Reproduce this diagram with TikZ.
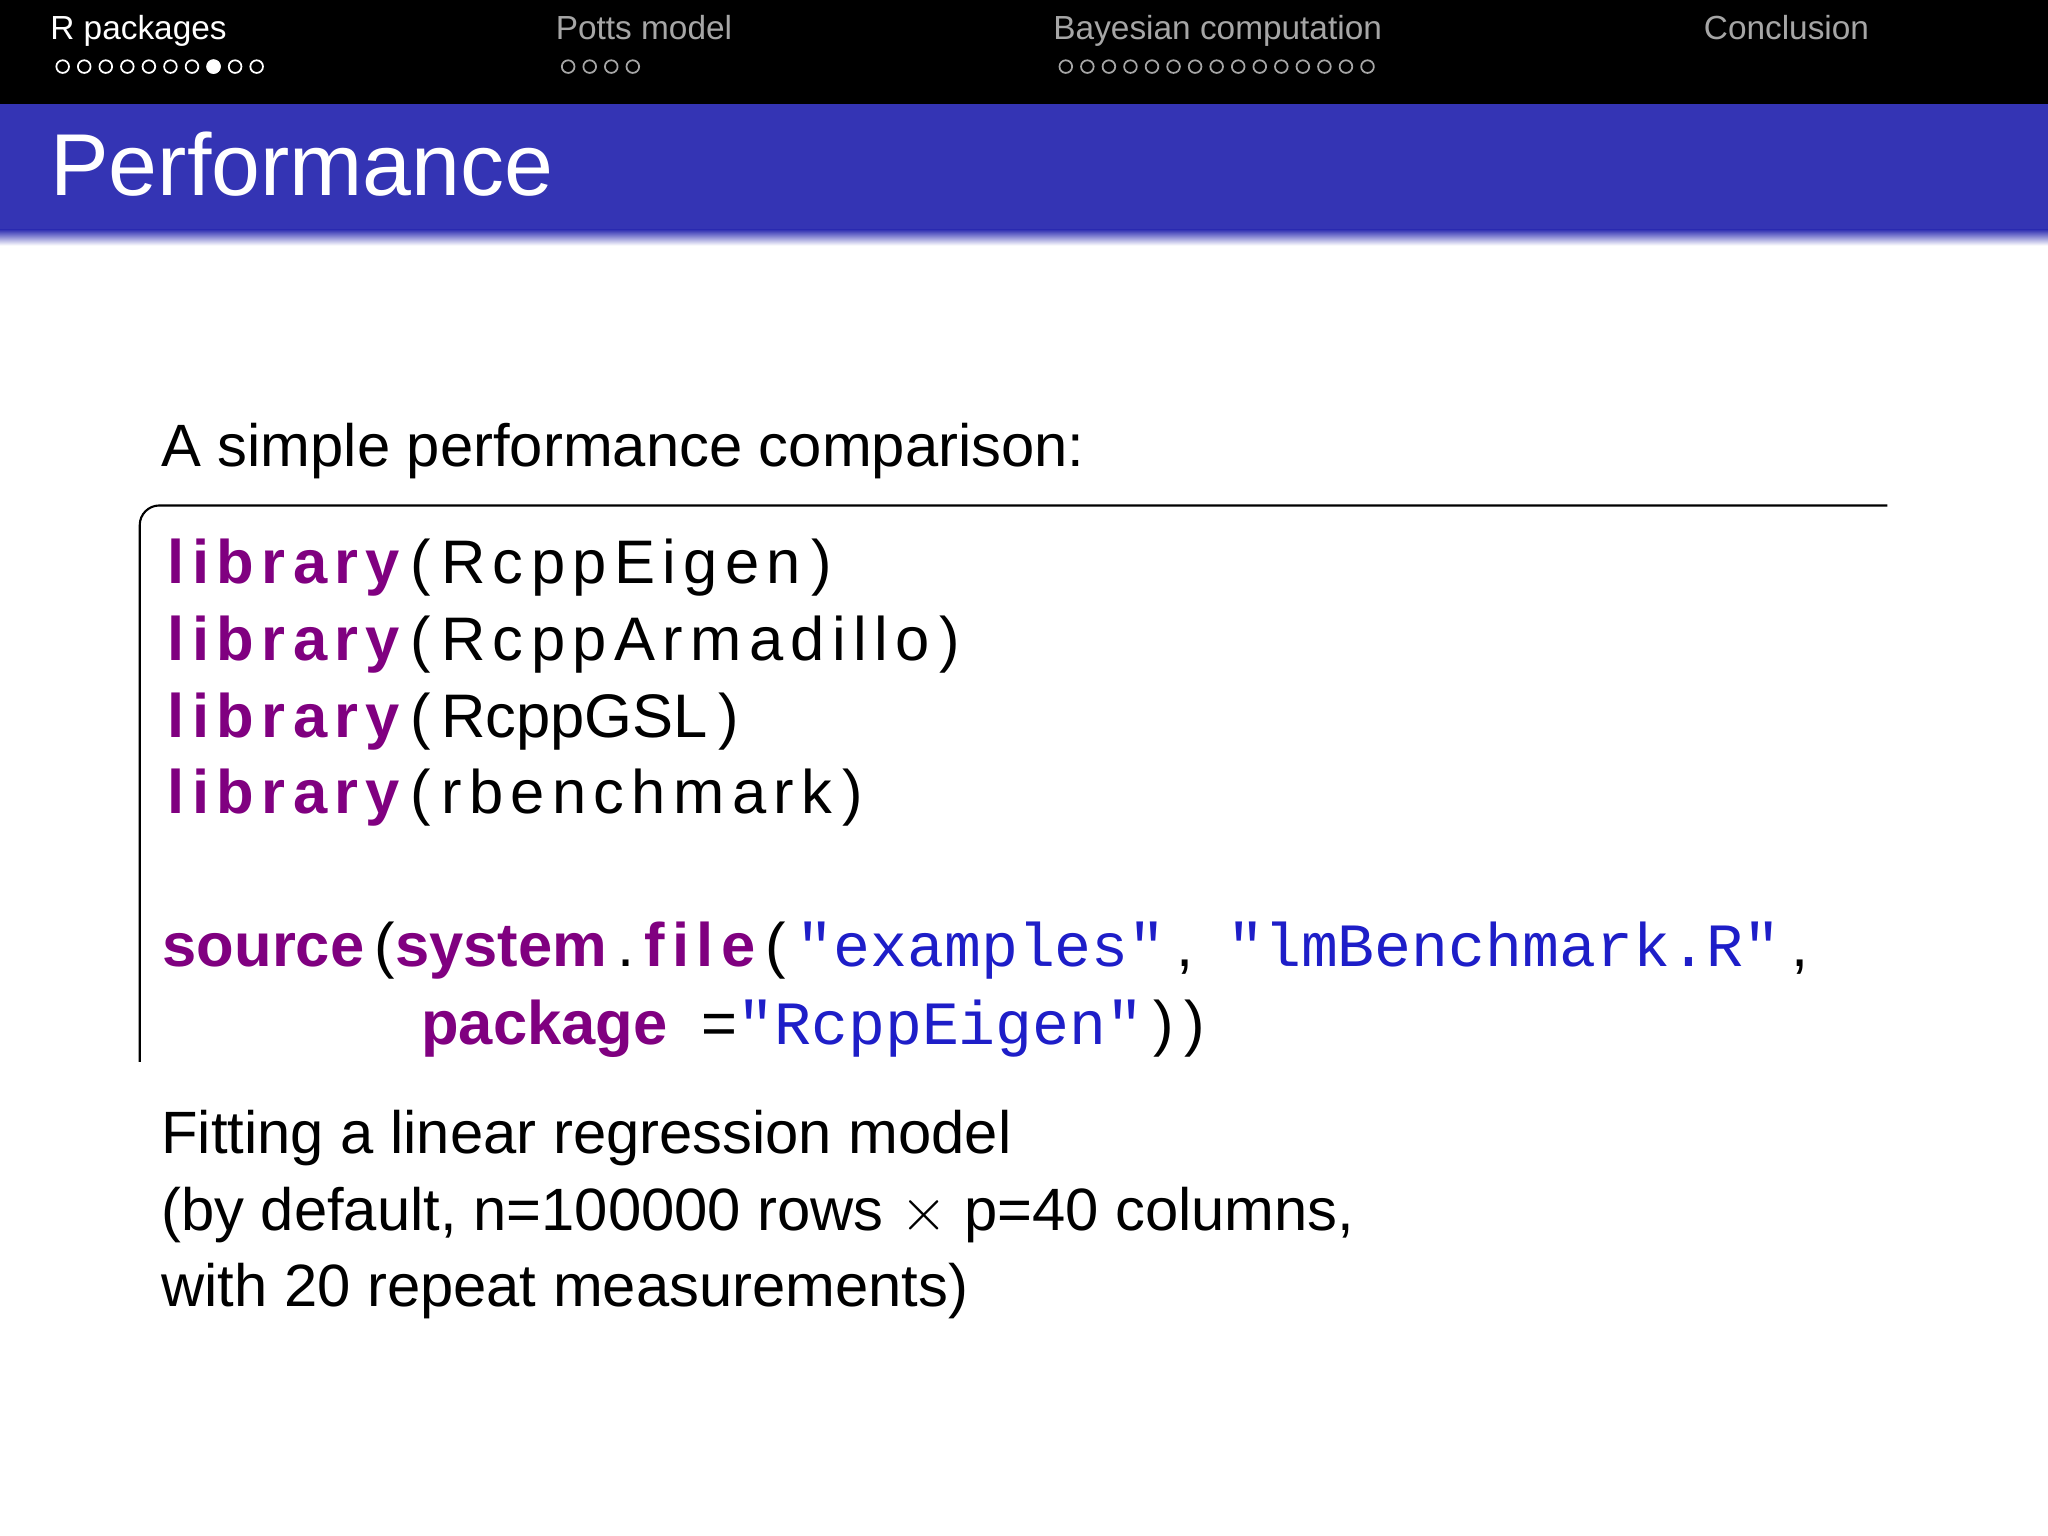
\documentclass[tikz,border=0pt]{standalone}
\usepackage{fontspec}
\setmainfont{Liberation Sans}
\newfontfamily\codef[LetterSpace=12]{Liberation Sans}
\newfontfamily\codeb[LetterSpace=12]{Liberation Sans Bold}
\newfontfamily\monof{Liberation Mono}
\definecolor{bblue}{RGB}{52,52,180}
\definecolor{kw}{RGB}{128,0,128}
\definecolor{str}{RGB}{30,30,200}
\tikzset{txt/.style={anchor=base west,inner sep=0pt},
 dot/.style={circle,draw=white,line width=0.5pt,inner sep=0pt,minimum size=3.6pt},
 fdot/.style={dot,fill=white}}
\begin{document}
\begin{tikzpicture}[x=0.013061cm,y=-0.013061cm]
\useasboundingbox (0,0) rectangle (1568,1176);
\fill[white] (0,0) rectangle (1568,1176);
\fill[black] (0,0) rectangle (1568,80);
\fill[bblue] (0,80) rectangle (1568,178);
\shade[top color=bblue,bottom color=white] (0,176) rectangle (1568,188);
\node[txt,white,font=\fontsize{9.5}{11}\selectfont] (n1) at (38,30) {R packages};
\node[txt,gray!70,font=\fontsize{9.5}{11}\selectfont] (n2) at (425,30) {Potts model};
\node[txt,gray!70,font=\fontsize{9.5}{11}\selectfont] (n3) at (806,30) {Bayesian computation};
\node[txt,gray!70,font=\fontsize{9.5}{11}\selectfont] (n4) at (1304,30) {Conclusion};
\foreach \i in {0,...,9}{\node[dot] (a\i) at (48+\i*16.5,51) {};}
\node[fdot] at (a7) {};
\foreach \i in {0,...,3}{\node[dot,draw=gray!70] (b\i) at (435+\i*16.5,51) {};}
\foreach \i in {0,...,14}{\node[dot,draw=gray!70] (c\i) at (816+\i*16.5,51) {};}
\node[txt,white,font=\fontsize{25}{30}\selectfont] (title) at (38,150) {Performance};
\node[txt,font=\fontsize{17}{20}\selectfont] (intro) at (123,357) {A simple performance comparison:};
\draw[line width=0.6pt] (107,813) -- (107,402) arc (180:270:15) -- (1445,387);
\begin{scope}[every node/.style={txt,font=\fontsize{17.5}{20}\selectfont}]
\node (l1) at (128,447) {{\codeb\color{kw}library}{\codef\,(\,RcppEigen\,)}};
\node (l2) at (128,506) {{\codeb\color{kw}library}{\codef\,(\,RcppArmadillo\,)}};
\node (l3) at (128,565) {{\codeb\color{kw}library}{\codef\,(\,}RcppGSL{\codef\,)}};
\node (l4) at (128,623) {{\codeb\color{kw}library}{\codef\,(\,rbenchmark\,)}};
\node (l5) at (124,740) {{\bfseries\color{kw}source}{\codef\,(}{\bfseries\color{kw}system}{\codef\,.\,}{\codeb\color{kw}file}{\codef\,(\,}{\monof\color{str}"examples"}{\codef\,,\;\;}{\monof\color{str}"lmBenchmark.R"}{\codef\,,}};
\node (l6) at (322,800) {{\bfseries\color{kw}package}{\codef\;\;=}{\monof\color{str}"RcppEigen"}{\codef\,)\,)}};
\end{scope}
\begin{scope}[every node/.style={txt,font=\fontsize{17}{20}\selectfont}]
\node (f1) at (123,883) {Fitting a linear regression model};
\node (f2) at (123,942) {(by default, n=100000 rows $\times$ p=40 columns,};
\node (f3) at (123,1000) {with 20 repeat measurements)};
\end{scope}
\end{tikzpicture}
\end{document}
